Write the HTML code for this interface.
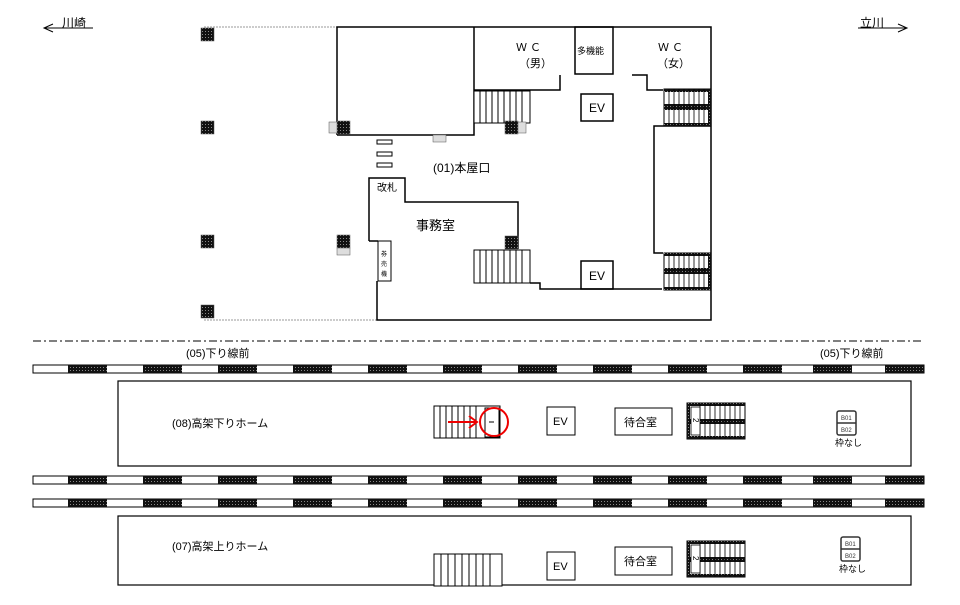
<!DOCTYPE html>
<html><head><meta charset="utf-8"><style>
body{margin:0;background:#fff}
svg{display:block;font-family:"Liberation Sans","Noto Sans CJK JP",sans-serif}
</style></head><body>
<svg width="960" height="605" viewBox="0 0 960 605" xmlns="http://www.w3.org/2000/svg">
<defs>
<pattern id="dk" width="3" height="3" patternUnits="userSpaceOnUse"><rect width="3" height="3" fill="#111"/><rect x="1" y="1" width="1" height="1" fill="#888"/></pattern>
</defs>
<g fill="none" stroke="#000" stroke-width="1.5">
<text x="62" y="27" font-size="12" fill="#000" stroke="none">川崎</text>
<line x1="44" y1="28" x2="93" y2="28" stroke-width="1"/>
<polyline points="53,24 44,28 53,32" stroke-width="1"/>
<text x="860" y="27" font-size="12" fill="#000" stroke="none">立川</text>
<line x1="858" y1="28" x2="907" y2="28" stroke-width="1"/>
<polyline points="898,24 907,28 898,32" stroke-width="1"/>
<line x1="204" y1="27" x2="337" y2="27" stroke="#999" stroke-width="1" stroke-dasharray="2,1"/>
<line x1="204" y1="320" x2="377" y2="320" stroke="#999" stroke-width="1" stroke-dasharray="2,1"/>
<polyline points="337,135 337,27 711,27 711,320 377,320 377,281"/>
<polyline points="337,135 474,135 474,27"/>
<polyline points="474,90 560,90 560,75"/>
<rect x="575" y="27" width="38" height="47"/>
<polyline points="632,75 647,75 647,90 663,90"/>
<polyline points="711,126 654,126 654,253 663,253"/>
<rect x="581" y="94" width="32" height="27"/>
<rect x="581" y="261" width="32" height="28"/>
<polyline points="369,241 369,178 405,178 405,202 518,202 518,249"/>
<line x1="369" y1="241" x2="378" y2="241"/>
<rect x="378" y="241" width="13" height="40" stroke-width="1"/>
<polyline points="530,283 540,283 540,289 662,289"/>
</g>
<g fill="#fff" stroke="#000" stroke-width="1">
<rect x="377" y="140" width="15" height="4"/><rect x="377" y="152" width="15" height="4"/><rect x="377" y="163" width="15" height="4"/>
</g>
<g stroke="#000" stroke-width="1" fill="#fff">
<rect x="474" y="91" width="56" height="32"/>
<rect x="474" y="250" width="56" height="33"/>
</g>
<g stroke="#000" stroke-width="1">
<path d="M480 91V123M486 91V123M492 91V123M498 91V123M504 91V123M510 91V123M516 91V123M522 91V123"/>
<path d="M480 250V283M486 250V283M492 250V283M498 250V283M504 250V283M510 250V283M516 250V283M522 250V283"/>
</g>
<g>
<rect x="664" y="89" width="47" height="37" fill="#fff" stroke="#000"/>
<rect x="664" y="89" width="47" height="3" fill="url(#dk)"/>
<rect x="664" y="104" width="47" height="6" fill="url(#dk)"/>
<rect x="664" y="123" width="47" height="3" fill="url(#dk)"/>
<rect x="708" y="89" width="3" height="37" fill="url(#dk)"/>
<path d="M669 89V126M674 89V126M679 89V126M684 89V126M689 89V126M694 89V126M699 89V126M704 89V126" stroke="#000" stroke-width="0.8"/>
<rect x="664" y="253" width="47" height="37" fill="#fff" stroke="#000"/>
<rect x="664" y="253" width="47" height="3" fill="url(#dk)"/>
<rect x="664" y="268" width="47" height="6" fill="url(#dk)"/>
<rect x="664" y="287" width="47" height="3" fill="url(#dk)"/>
<rect x="708" y="253" width="3" height="37" fill="url(#dk)"/>
<path d="M669 253V290M674 253V290M679 253V290M684 253V290M689 253V290M694 253V290M699 253V290M704 253V290" stroke="#000" stroke-width="0.8"/>
</g>
<g fill="url(#dk)" stroke="#555" stroke-width="0.5">
<rect x="201" y="28" width="13" height="13"/><rect x="201" y="121" width="13" height="13"/>
<rect x="201" y="235" width="13" height="13"/><rect x="201" y="305" width="13" height="13"/>
<rect x="337" y="121" width="13" height="13"/><rect x="505" y="121" width="13" height="13"/>
<rect x="337" y="235" width="13" height="13"/><rect x="505" y="236" width="13" height="13"/>
</g>
<g fill="#ddd" stroke="#555" stroke-width="0.5">
<rect x="329" y="122" width="8" height="11"/><rect x="518" y="122" width="8" height="11"/>
<rect x="337" y="248" width="13" height="7"/><rect x="433" y="135" width="13" height="7"/>
</g>
<g fill="#000" font-size="11">
<text x="516" y="51">Ｗ Ｃ</text><text x="519" y="67">（男）</text>
<text x="577" y="54" font-size="9">多機能</text>
<text x="658" y="51">Ｗ Ｃ</text><text x="657" y="67">（女）</text>
<text x="589" y="112" font-size="12">EV</text><text x="589" y="280" font-size="12">EV</text>
<text x="433" y="172" font-size="12">(01)本屋口</text>
<text x="377" y="191" font-size="10">改札</text>
<text x="416" y="230" font-size="13">事務室</text>
<text x="381" y="256" font-size="6">券</text><text x="381" y="266" font-size="6">売</text><text x="381" y="276" font-size="6">機</text>
</g>
<line x1="33" y1="341" x2="924" y2="341" stroke="#000" stroke-width="1" stroke-dasharray="8,3,2,3"/>
<g fill="#000" font-size="11">
<text x="186" y="357">(05)下り線前</text><text x="820" y="357">(05)下り線前</text>
</g>
<g id="trk">
<rect x="33" y="365" width="891" height="8" fill="#fff" stroke="#000" stroke-width="1"/>
<g fill="url(#dk)">
<rect x="68" y="365" width="39" height="8"/><rect x="143" y="365" width="39" height="8"/><rect x="218" y="365" width="39" height="8"/><rect x="293" y="365" width="39" height="8"/><rect x="368" y="365" width="39" height="8"/><rect x="443" y="365" width="39" height="8"/><rect x="518" y="365" width="39" height="8"/><rect x="593" y="365" width="39" height="8"/><rect x="668" y="365" width="39" height="8"/><rect x="743" y="365" width="39" height="8"/><rect x="813" y="365" width="39" height="8"/><rect x="885" y="365" width="39" height="8"/>
</g></g>
<use href="#trk" y="111"/>
<use href="#trk" y="134"/>
<rect x="118" y="381" width="793" height="85" fill="none" stroke="#000" stroke-width="1.2"/>
<rect x="118" y="516" width="793" height="69" fill="none" stroke="#000" stroke-width="1.2"/>
<g fill="#000" font-size="11">
<text x="172" y="427">(08)高架下りホーム</text>
<text x="172" y="550">(07)高架上りホーム</text>
</g>
<rect x="434" y="406" width="66" height="32" fill="#fff" stroke="#000"/>
<path d="M440 406V438M446 406V438M452 406V438M458 406V438M464 406V438M470 406V438M476 406V438" stroke="#000"/>
<rect x="485" y="408" width="14" height="29" fill="#fff" stroke="#000"/>
<line x1="489" y1="422" x2="494" y2="422" stroke="#000"/>
<circle cx="494" cy="422" r="14" fill="none" stroke="#e00" stroke-width="2"/>
<line x1="448" y1="422" x2="476" y2="422" stroke="#e00" stroke-width="2"/>
<polyline points="469,416 477,422 469,428" fill="none" stroke="#e00" stroke-width="2"/>
<rect x="434" y="554" width="68" height="32" fill="#fff" stroke="#000"/>
<path d="M441 554V586M448 554V586M455 554V586M462 554V586M469 554V586M476 554V586M483 554V586M490 554V586" stroke="#000"/>
<g fill="#fff" stroke="#000">
<rect x="547" y="407" width="28" height="28"/><rect x="615" y="408" width="57" height="27"/>
<rect x="547" y="552" width="28" height="28"/><rect x="615" y="547" width="57" height="28"/>
</g>
<g fill="#000" font-size="11">
<text x="553" y="425">EV</text><text x="553" y="570">EV</text>
<text x="624" y="426">待合室</text><text x="624" y="565">待合室</text>
</g>
<g id="ds">
<rect x="687" y="403" width="58" height="36" fill="#fff" stroke="#000"/>
<rect x="687" y="403" width="58" height="3" fill="url(#dk)"/>
<rect x="687" y="419" width="58" height="5" fill="url(#dk)"/>
<rect x="687" y="436" width="58" height="3" fill="url(#dk)"/>
<rect x="687" y="403" width="3" height="36" fill="url(#dk)"/>
<path d="M700 403V439M705 403V439M710 403V439M715 403V439M720 403V439M725 403V439M730 403V439M735 403V439M740 403V439" stroke="#000" stroke-width="0.8"/>
<rect x="691" y="407" width="9" height="28" fill="#fff" stroke="#000" stroke-width="0.8"/>
<text x="693" y="424" font-size="8" fill="#000" transform="rotate(90 696 421)">2</text>
</g>
<use href="#ds" y="138"/>
<g id="bi">
<rect x="837" y="411" width="19" height="24" rx="2" fill="#fff" stroke="#333" stroke-width="1.5"/>
<line x1="837" y1="423" x2="856" y2="423" stroke="#333" stroke-width="1.5"/>
<text x="841" y="420" font-size="6" fill="#333">B01</text>
<text x="841" y="432" font-size="6" fill="#333">B02</text>
<text x="835" y="446" font-size="9" fill="#000">枠なし</text>
</g>
<use href="#bi" x="4" y="126"/>
</svg>
</body></html>
